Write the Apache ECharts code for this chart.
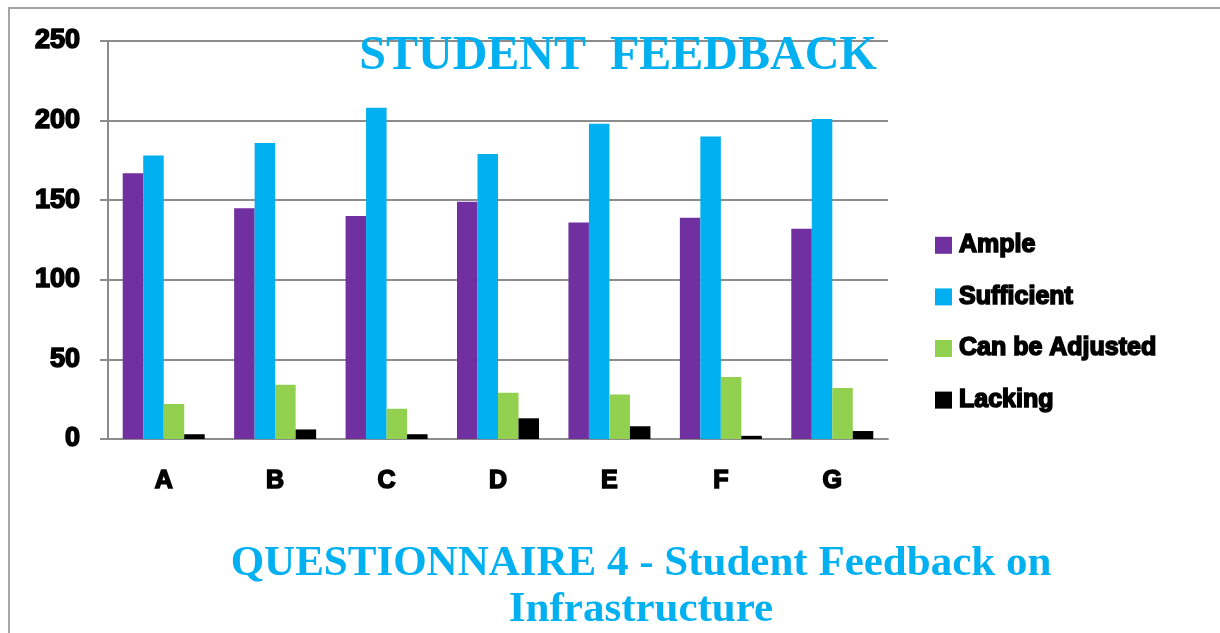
<!DOCTYPE html>
<html>
<head>
<meta charset="utf-8">
<script src="https://cdn.jsdelivr.net/npm/echarts@6/dist/echarts.min.js"></script>
<style>
  html, body { margin: 0; padding: 0; background: #fff; }
  #frame {
    position: absolute; left: 8px; top: 7px; width: 1212px; height: 626px;
    border-top: 2px solid #a6a6a6; border-left: 2px solid #a6a6a6;
  }
  #chart { position: absolute; left: 0; top: 0; width: 1220px; height: 633px; }
</style>
</head>
<body>
<div id="frame"></div>
<div id="chart"></div>
<script>
const categories = ['A', 'B', 'C', 'D', 'E', 'F', 'G']
const ample = [167, 145, 140, 149, 136, 139, 132]
const sufficient = [178, 186, 208, 179, 198, 190, 201]
const adjusted = [22, 34, 19, 29, 28, 39, 32]
const lacking = [3, 6, 3, 13, 8, 2, 5]
const seriesNames = ['Ample', 'Sufficient', 'Can be Adjusted', 'Lacking']
const colors = ['#7030a0', '#00b0f0', '#92d050', '#000000']

const chart = echarts.init(document.getElementById('chart'))

// heavy black labels (reference looks like Arial Black)
const boldText = {
  color: '#000', fontFamily: 'Liberation Sans, Arial', fontWeight: 'bold',
  textBorderColor: '#000', textBorderWidth: 1.6
}

chart.setOption({
  animation: false,
  color: colors,
  title: [
    {
      text: 'STUDENT  FEEDBACK',
      left: 613, top: 28, textAlign: 'center',
      textStyle: { color: '#00b0f0', fontFamily: 'Liberation Serif, Times New Roman', fontWeight: 'bold', fontSize: 48 }
    },
    {
      text: 'QUESTIONNAIRE 4 - Student Feedback on\nInfrastructure',
      left: 636, top: 536, textAlign: 'center',
      textStyle: { color: '#00b0f0', fontFamily: 'Liberation Serif, Times New Roman', fontWeight: 'bold', fontSize: 43, lineHeight: 46 }
    }
  ],
  legend: {
    orient: 'vertical', left: 930, top: 227,
    itemWidth: 17, itemHeight: 17, itemGap: 25,
    icon: 'rect',
    textStyle: Object.assign({ fontSize: 25, padding: [0, 0, 0, 2] }, boldText),
    data: seriesNames
  },
  grid: { left: 108, top: 41, width: 780, height: 398 },
  xAxis: {
    type: 'category', data: categories,
    axisLine: { lineStyle: { color: '#8c8c8c', width: 2 } },
    axisTick: { length: 10, lineStyle: { color: '#8c8c8c', width: 2 } },
    axisLabel: Object.assign({ fontSize: 25, margin: 30 }, boldText)
  },
  yAxis: {
    type: 'value', min: 0, max: 250, interval: 50,
    axisLine: { show: true, lineStyle: { color: '#8c8c8c', width: 2 } },
    axisTick: { show: true, length: 8, lineStyle: { color: '#8c8c8c', width: 2 } },
    splitLine: { lineStyle: { color: '#8c8c8c', width: 2 } },
    axisLabel: Object.assign({ fontSize: 27, margin: 28 }, boldText)
  },
  series: [ample, sufficient, adjusted, lacking].map((d, i) => ({
    name: seriesNames[i], type: 'bar', data: d,
    barWidth: 20.5, barGap: '0%'
  }))
})
</script>
</body>
</html>
